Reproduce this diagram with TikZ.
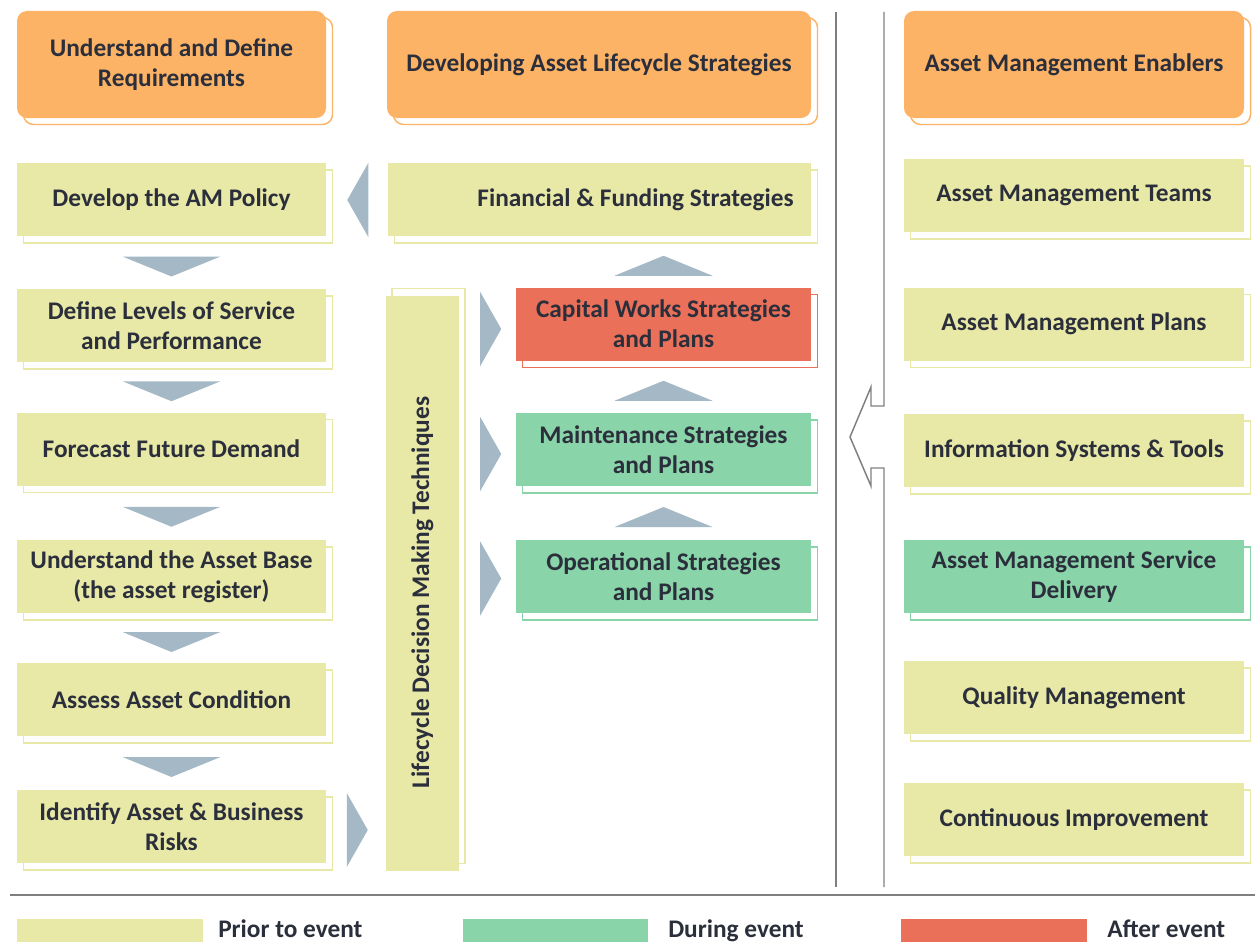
\documentclass[tikz,border=0pt]{standalone}
\usepackage{fontspec}
\setmainfont{Carlito}
\usetikzlibrary{calc}

\definecolor{hdr}{HTML}{FDB366}
\definecolor{pri}{HTML}{E9E9A7}
\definecolor{dur}{HTML}{8AD4A9}
\definecolor{aft}{HTML}{EB7059}
\definecolor{arr}{HTML}{A4B9C5}
\definecolor{rulec}{HTML}{7F7F7F}
\definecolor{ink}{HTML}{2B2F3B}

\newcommand\boxfont{\fontsize{19pt}{22.5pt}\selectfont\bfseries}

% triangular pointers, centred on a named coordinate (units are pixels, y downwards)
\newcommand\tridown[1]{\fill[arr] ([shift={(-49,-10)}]#1) -- ([shift={(49,-10)}]#1) -- ([shift={(0,10)}]#1) -- cycle;}
\newcommand\triup[1]{\fill[arr] ([shift={(-49,10)}]#1) -- ([shift={(49,10)}]#1) -- ([shift={(0,-10)}]#1) -- cycle;}
\newcommand\triright[1]{\fill[arr] ([shift={(-10.5,-37)}]#1) -- ([shift={(10.5,0)}]#1) -- ([shift={(-10.5,37)}]#1) -- cycle;}
\newcommand\trileft[1]{\fill[arr] ([shift={(10.5,-37)}]#1) -- ([shift={(-10.5,0)}]#1) -- ([shift={(10.5,37)}]#1) -- cycle;}

\tikzset{
  card/.style={rectangle, fill=#1, text=ink, align=center, inner sep=0pt, font=\boxfont},
  backing/.style n args={3}{preaction={draw=#1, fill=white, line width=1.1pt,
      transform canvas={shift={(#2,#3)}}}},
  head/.style={card=hdr, rounded corners=7.5pt, backing={hdr}{6.5}{6.5},
      minimum height=80.25pt},
  prior/.style={card=pri, backing={pri}{6.5}{7}, minimum height=54.75pt},
  during/.style={card=dur, backing={dur}{6.5}{7}, minimum height=54.75pt},
  after/.style={card=aft, backing={aft}{6.5}{7}, minimum height=54.75pt},
  colA/.style={minimum width=231.75pt},
  colB/.style={minimum width=221.25pt},
  colC/.style={minimum width=255pt},
  divider/.style={draw=rulec, line width=1.1pt},
  legendtext/.style={anchor=base west, text=ink, inner sep=0pt, font=\boxfont},
}

\begin{document}
\begin{tikzpicture}[x=0.75pt, y=-0.75pt]
\useasboundingbox (0,0) rectangle (1255,942);

% ---- column headers
\node[head, colA] (h1) at (171.5,64.5) {Understand and Define\\Requirements};
\node[head, minimum width=318pt] (h2) at (599,64.5) {Developing Asset Lifecycle Strategies};
\node[head, colC] (h3) at (1074,64.5) {Asset Management Enablers};

% ---- requirements column
\node[prior, colA] (d1) at (171.5,199.5) {Develop the AM Policy};
\node[prior, colA] (d2) at (171.5,325.5) {Define Levels of Service\\and Performance};
\node[prior, colA] (d3) at (171.5,449)   {Forecast Future Demand};
\node[prior, colA] (d4) at (171.5,576.5) {Understand the Asset Base\\(the asset register)};
\node[prior, colA] (d5) at (171.5,699.5) {Assess Asset Condition};
\node[prior, colA] (d6) at (171.5,826.5) {Identify Asset \& Business\\Risks};

% ---- lifecycle strategies column
\node[prior, minimum width=317.25pt] (f) at (599.5,199.5)
  {\hspace*{54pt}Financial \& Funding Strategies};
\node[card=pri, backing={pri}{6}{-7.5}, minimum width=54.75pt, minimum height=431.25pt]
  (L) at (422.5,583.5) {\rotatebox{90}{Lifecycle Decision Making Techniques\hspace*{13.5pt}}};
\node[after,  colB] (c) at (663.5,324)   {Capital Works Strategies\\and Plans};
\node[during, colB] (m) at (663.5,449.5) {Maintenance Strategies\\and Plans};
\node[during, colB] (o) at (663.5,576.5) {Operational Strategies\\and Plans};

% ---- enablers column
\node[prior,  colC] (e1) at (1074,195.5) {Asset Management Teams};
\node[prior,  colC] (e2) at (1074,324)   {Asset Management Plans};
\node[prior,  colC] (e3) at (1074,450.5) {Information Systems \& Tools};
\node[during, colC] (e4) at (1074,576.5) {Asset Management Service\\Delivery};
\node[prior,  colC] (e5) at (1074,697.5) {Quality Management};
\node[prior,  colC] (e6) at (1074,819.5) {Continuous Improvement};

% ---- flow pointers
\coordinate (a1) at ($(d1.south)!0.5!(d2.north)+(0,4)$);
\coordinate (a2) at ($(d2.south)!0.5!(d3.north)+(0,4)$);
\coordinate (a3) at ($(d3.south)!0.5!(d4.north)+(0,4)$);
\coordinate (a4) at ($(d4.south)!0.5!(d5.north)+(0,4)$);
\coordinate (a5) at ($(d5.south)!0.5!(d6.north)+(0,4)$);
\foreach \p in {a1,a2,a3,a4,a5} {\tridown{\p}}

\coordinate (u1) at ($(f.south -| c.north)!0.5!(c.north)+(0,4)$);
\coordinate (u2) at ($(c.south)!0.5!(m.north)+(0,4)$);
\coordinate (u3) at ($(m.south)!0.5!(o.north)+(0,4)$);
\foreach \p in {u1,u2,u3} {\triup{\p}}

\coordinate (r1) at ($(c.west)+(-25,5)$);
\coordinate (r2) at ($(m.west)+(-25,4.5)$);
\coordinate (r3) at ($(o.west)+(-25,2)$);
\foreach \p in {r1,r2,r3} {\triright{\p}}

\coordinate (lf) at ($(d1.east)+(31.5,0.5)$);
\trileft{lf}
\coordinate (rk) at ($(d6.east)+(31,3.5)$);
\triright{rk}

% ---- dividers and the hollow pointer from the enablers
\draw[divider] (836,12) -- (836,887);
\draw[divider] (884,12) -- (884,406) -- (871,406) -- (871,387) -- (850,437)
  -- (871,486) -- (871,468) -- (884,468) -- (884,887);
\draw[draw=rulec, line width=1.5pt] (10,895) -- (1255,895);

% ---- legend
\fill[pri] (17,919) rectangle (203,942);
\node[legendtext] (k1) at (218,937) {Prior to event};
\fill[dur] (463,919) rectangle (648,942);
\node[legendtext] (k2) at (668,937) {During event};
\fill[aft] (901,919) rectangle (1087,942);
\node[legendtext] (k3) at (1107,937) {After event};
\end{tikzpicture}
\end{document}
